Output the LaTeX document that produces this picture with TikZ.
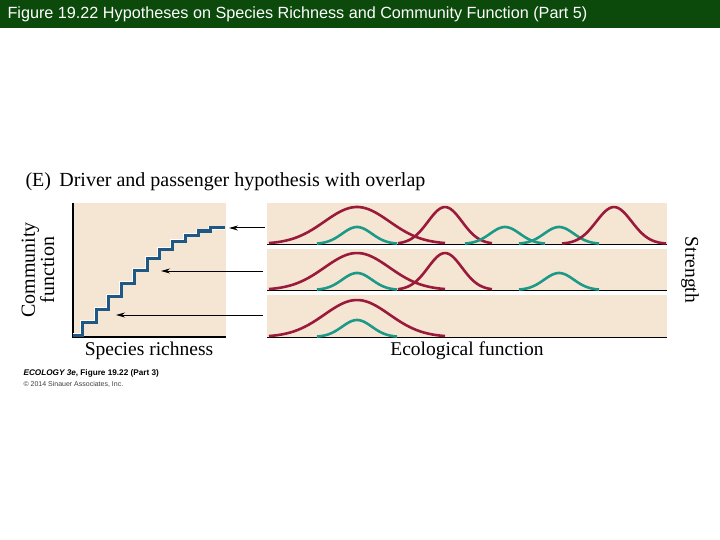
\documentclass[tikz,border=0pt]{standalone}
\usepackage{fontspec}
\usetikzlibrary{arrows.meta}
\setmainfont{Liberation Serif}
\newfontfamily\arial{Liberation Sans}
\begin{document}
\begin{tikzpicture}[x=1pt,y=-1pt,
  panel/.style={fill=bgc,draw=none},
  redc/.style={draw=redcol,line width=2.6pt},
  tealc/.style={draw=tealcol,line width=2.6pt},
  arr/.style={-{Stealth[length=9pt,width=5pt]},line width=1pt},
  lbl/.style={font=\fontsize{19.5}{20}\selectfont}]
\definecolor{bgc}{HTML}{F5E6D4}
\definecolor{redcol}{HTML}{9A1A3C}
\definecolor{tealcol}{HTML}{1E9988}
\definecolor{bluec}{HTML}{1F5884}
\definecolor{titlebg}{HTML}{0B4A0B}
\useasboundingbox (0,0) rectangle (720,540);
\fill[white] (0,0) rectangle (720,540);
\fill[titlebg] (0,0) rectangle (720,28);
\node[anchor=west,text=white,font=\arial\fontsize{16.2}{18}\selectfont] (title) at (4,14) {Figure 19.22 Hypotheses on Species Richness and Community Function (Part 5)};
\node[anchor=west,font=\fontsize{20}{22}\selectfont] (head) at (22,182) {(E)\, Driver and passenger hypothesis with overlap};
% left panel
\fill[panel] (73,203) rectangle (226,337);
\draw[line width=1.2pt] (73,203) -- (73,337) -- (226,337);
\draw[white,line width=4.6pt,line join=miter] (73,335) -| (82,322) -| (96,309) -| (108,296) -| (121,283) -| (134,270) -| (147,258) -| (159,249) -| (172,241) -| (185,235) -| (198,231) -| (210,228) -- (225,228);
\draw[bluec,line width=3pt,line join=miter] (73,335) -| (82,322) -| (96,309) -| (108,296) -| (121,283) -| (134,270) -| (147,258) -| (159,249) -| (172,241) -| (185,235) -| (198,231) -| (210,228) -- (225,228);
\node[lbl,rotate=90,align=center,font=\fontsize{20}{18}\selectfont] (cf) at (38,270) {Community\\function};
\node[lbl] (sr) at (149,351) {Species richness};
% right panels
\fill[panel] (267,203) rectangle (667,244);
\fill[panel] (267,249) rectangle (667,290);
\fill[panel] (267,295) rectangle (667,337);
\foreach \b in {244,290,337} \draw[line width=1pt] (267,\b) -- (667,\b);
% row 1
\draw[redc] plot[domain=-88:88,samples=50] ({357+\x},{244-37*exp(-(\x/46)^2)});
\draw[tealc] plot[domain=-40:40,samples=40] ({357+\x},{244-17*exp(-(\x/21)^2)});
\draw[redc] plot[domain=-47:47,samples=40] ({445+\x},{244-37*exp(-(\x/24)^2)});
\draw[tealc] plot[domain=-40:40,samples=40] ({505+\x},{244-17*exp(-(\x/21)^2)});
\draw[tealc] plot[domain=-40:40,samples=40] ({559+\x},{244-17*exp(-(\x/21)^2)});
\draw[redc] plot[domain=-52:52,samples=40] ({614+\x},{244-37*exp(-(\x/25)^2)});
% row 2
\draw[redc] plot[domain=-88:88,samples=50] ({357+\x},{290-37*exp(-(\x/46)^2)});
\draw[tealc] plot[domain=-40:40,samples=40] ({357+\x},{290-17*exp(-(\x/21)^2)});
\draw[redc] plot[domain=-47:47,samples=40] ({445+\x},{290-37*exp(-(\x/24)^2)});
\draw[tealc] plot[domain=-40:40,samples=40] ({559+\x},{290-17*exp(-(\x/21)^2)});
% row 3
\draw[redc] plot[domain=-88:88,samples=50] ({357+\x},{337-37*exp(-(\x/46)^2)});
\draw[tealc] plot[domain=-40:40,samples=40] ({357+\x},{337-17*exp(-(\x/21)^2)});
\node[lbl,rotate=-90] (st) at (690,270) {Strength};
\node[lbl] (ef) at (467,351) {Ecological function};
% arrows
\coordinate (a1s) at (265,228); \coordinate (a1e) at (229,228);
\coordinate (a2s) at (263,271); \coordinate (a2e) at (161,271);
\coordinate (a3s) at (263,315); \coordinate (a3e) at (116,315);
\draw[arr] (a1s) -- (a1e);
\draw[arr] (a2s) -- (a2e);
\draw[arr] (a3s) -- (a3e);
% credits
\node[anchor=west,font=\arial\bfseries\fontsize{8.2}{9}\selectfont] (c1) at (20,373) {\itshape ECOLOGY 3e\upshape, Figure 19.22 (Part 3)};
\node[anchor=west,font=\arial\fontsize{7}{8}\selectfont,text=black!75] (c2) at (20,384) {\copyright{} 2014 Sinauer Associates, Inc.};
\end{tikzpicture}
\end{document}
